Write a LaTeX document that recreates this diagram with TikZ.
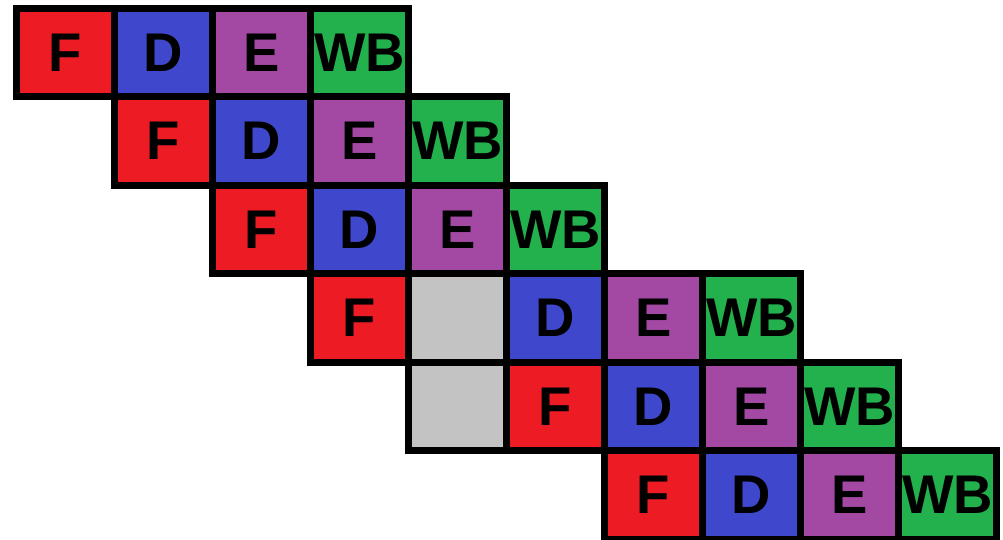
\documentclass[tikz,border=0pt]{standalone}
\usepackage{fontspec}
\setmainfont{Liberation Sans}
\usepackage{tikz}
\usepackage{xcolor}
\definecolor{fetchred}{HTML}{ED1C24}
\definecolor{decodeblue}{HTML}{3F48CC}
\definecolor{execpurple}{HTML}{A349A4}
\definecolor{wbgreen}{HTML}{22B14C}
\definecolor{stallgray}{HTML}{C3C3C3}

\begin{document}
\begin{tikzpicture}[x=0.98cm,y=-0.885cm,
  cell/.style={draw=black,line width=0.07cm,minimum width=0.98cm,minimum height=0.885cm,
    inner sep=0pt,font=\fontsize{15.5}{16}\selectfont\bfseries},
  fetch/.style={cell,fill=fetchred},
  decode/.style={cell,fill=decodeblue},
  execute/.style={cell,fill=execpurple},
  writeback/.style={cell,fill=wbgreen},
  bubble/.style={cell,fill=stallgray}]
\useasboundingbox (0cm,0cm) rectangle (10.03cm,-5.39cm);
\begin{scope}[shift={(0.165cm,-0.08cm)}]
% instruction 1
\node[fetch] (f1) at (0.5,0.5) {F};
\node[decode] (d1) at (1.5,0.5) {D};
\node[execute] (e1) at (2.5,0.5) {E};
\node[writeback] (wb1) at (3.5,0.5) {WB};
% instruction 2
\node[fetch] (f2) at (1.5,1.5) {F};
\node[decode] (d2) at (2.5,1.5) {D};
\node[execute] (e2) at (3.5,1.5) {E};
\node[writeback] (wb2) at (4.5,1.5) {WB};
% instruction 3
\node[fetch] (f3) at (2.5,2.5) {F};
\node[decode] (d3) at (3.5,2.5) {D};
\node[execute] (e3) at (4.5,2.5) {E};
\node[writeback] (wb3) at (5.5,2.5) {WB};
% instruction 4 (stalled)
\node[fetch] (f4) at (3.5,3.5) {F};
\node[bubble] (s4) at (4.5,3.5) {};
\node[decode] (d4) at (5.5,3.5) {D};
\node[execute] (e4) at (6.5,3.5) {E};
\node[writeback] (wb4) at (7.5,3.5) {WB};
% instruction 5 (stalled)
\node[bubble] (s5) at (4.5,4.5) {};
\node[fetch] (f5) at (5.5,4.5) {F};
\node[decode] (d5) at (6.5,4.5) {D};
\node[execute] (e5) at (7.5,4.5) {E};
\node[writeback] (wb5) at (8.5,4.5) {WB};
% instruction 6
\node[fetch] (f6) at (6.5,5.5) {F};
\node[decode] (d6) at (7.5,5.5) {D};
\node[execute] (e6) at (8.5,5.5) {E};
\node[writeback] (wb6) at (9.5,5.5) {WB};
\end{scope}
\end{tikzpicture}
\end{document}
